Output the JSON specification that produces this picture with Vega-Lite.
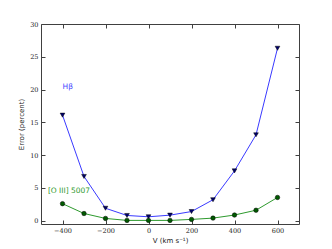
{
  "$schema": "https://vega.github.io/schema/vega-lite/v6.json",
  "width": 258,
  "height": 200,
  "autosize": {"type": "none"},
  "padding": {"left": 41, "top": 24, "right": 33, "bottom": 25},
  "background": "white",
  "config": {
    "view": {"stroke": "#404040", "strokeWidth": 1},
    "axis": {
      "grid": false,
      "domain": false,
      "tickColor": "#404040",
      "tickSize": -4,
      "labelFont": "DejaVu Serif",
      "labelFontSize": 6.5,
      "labelColor": "#222222",
      "titleFont": "DejaVu Sans",
      "titleFontSize": 7,
      "titleFontWeight": "normal",
      "titleColor": "#222222"
    }
  },
  "datasets": {
    "hb": [
      {"v": -400, "err": 16.1},
      {"v": -300, "err": 6.75},
      {"v": -200, "err": 1.9},
      {"v": -100, "err": 0.8},
      {"v": 0, "err": 0.6},
      {"v": 100, "err": 0.85},
      {"v": 200, "err": 1.4},
      {"v": 300, "err": 3.2},
      {"v": 400, "err": 7.6},
      {"v": 500, "err": 13.1},
      {"v": 600, "err": 26.3}
    ],
    "o3": [
      {"v": -400, "err": 2.6},
      {"v": -300, "err": 1.1},
      {"v": -200, "err": 0.35},
      {"v": -100, "err": 0.05},
      {"v": 0, "err": 0.05},
      {"v": 100, "err": 0.05},
      {"v": 200, "err": 0.2},
      {"v": 300, "err": 0.4},
      {"v": 400, "err": 0.87},
      {"v": 500, "err": 1.6},
      {"v": 600, "err": 3.55}
    ],
    "labels": [
      {"v": -400, "err": 20.4, "t": "Hβ", "c": "hb"},
      {"v": -468, "err": 4.6, "t": "[O III] 5007", "c": "o3"}
    ]
  },
  "resolve": {"axis": {"x": "independent", "y": "independent"}},
  "layer": [
    {
      "data": {"name": "hb"},
      "mark": {"type": "line", "color": "#3a3aff", "strokeWidth": 1},
      "encoding": {
        "x": {"field": "v", "type": "quantitative",
              "scale": {"domain": [-500, 700], "nice": false, "zero": false},
              "axis": {"orient": "bottom", "values": [-400, -200, 0, 200, 400, 600], "title": "V (km s⁻¹)", "titlePadding": 3, "labelPadding": 7}},
        "y": {"field": "err", "type": "quantitative",
              "scale": {"domain": [-0.5, 30], "nice": false, "zero": false},
              "axis": {"orient": "left", "values": [0, 5, 10, 15, 20, 25, 30], "title": "Error (percent)", "titlePadding": 5, "labelPadding": 7}}
      }
    },
    {
      "data": {"name": "o3"},
      "mark": {"type": "line", "color": "#2e9a2e", "strokeWidth": 1},
      "encoding": {
        "x": {"field": "v", "type": "quantitative",
              "axis": {"orient": "top", "values": [-400, -200, 0, 200, 400, 600], "labels": false, "title": null}},
        "y": {"field": "err", "type": "quantitative",
              "axis": {"orient": "right", "values": [0, 5, 10, 15, 20, 25, 30], "labels": false, "title": null}}
      }
    },
    {
      "data": {"name": "hb"},
      "mark": {"type": "point", "shape": "triangle-down", "filled": true, "color": "#00006e", "stroke": "#000000", "strokeWidth": 0.5, "size": 22, "opacity": 1},
      "encoding": {
        "x": {"field": "v", "type": "quantitative", "axis": null},
        "y": {"field": "err", "type": "quantitative", "axis": null}
      }
    },
    {
      "data": {"name": "o3"},
      "mark": {"type": "point", "shape": "circle", "filled": true, "color": "#005a00", "stroke": "#000000", "strokeWidth": 0.5, "size": 20, "opacity": 1},
      "encoding": {
        "x": {"field": "v", "type": "quantitative", "axis": null},
        "y": {"field": "err", "type": "quantitative", "axis": null}
      }
    },
    {
      "data": {"name": "labels"},
      "mark": {"type": "text", "align": "left", "baseline": "middle", "font": "DejaVu Sans", "fontSize": 7.5},
      "encoding": {
        "x": {"field": "v", "type": "quantitative", "axis": null},
        "y": {"field": "err", "type": "quantitative", "axis": null},
        "text": {"field": "t"},
        "color": {"field": "c", "type": "nominal", "scale": {"domain": ["hb", "o3"], "range": ["#4a4aff", "#2e9a2e"]}, "legend": null}
      }
    }
  ]
}
